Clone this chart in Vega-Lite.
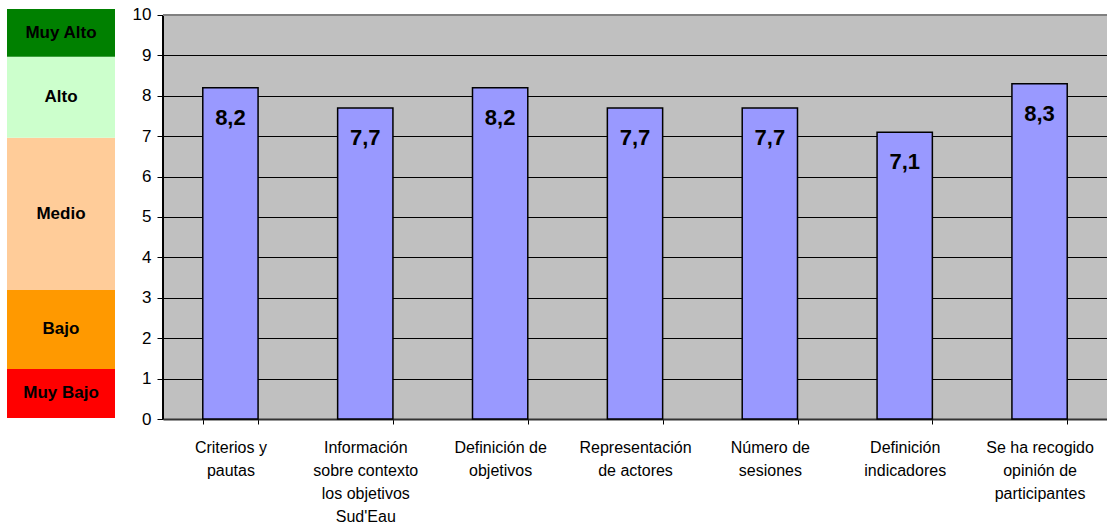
{
  "$schema": "https://vega.github.io/schema/vega-lite/v6.json",
  "padding": {"left": 7, "top": 5, "right": 0, "bottom": 0},
  "autosize": {"type": "pad"},
  "background": "white",
  "config": {
    "font": "Liberation Sans",
    "locale": {"number": {"decimal": ",", "thousands": ".", "grouping": [3], "currency": ["", " €"]}},
    "concat": {"spacing": 17}
  },
  "datasets": {
    "levels": [
      {"nivel": "Muy Bajo", "desde": 0, "hasta": 1.2, "color": "#FF0000"},
      {"nivel": "Bajo", "desde": 1.2, "hasta": 3.13, "color": "#FF9900"},
      {"nivel": "Medio", "desde": 3.13, "hasta": 6.85, "color": "#FFCC99"},
      {"nivel": "Alto", "desde": 6.85, "hasta": 8.83, "color": "#CCFFCC"},
      {"nivel": "Muy Alto", "desde": 8.83, "hasta": 10, "color": "#008000"}
    ],
    "scores": [
      {"criterio": "Criterios y\npautas", "valor": 8.2},
      {"criterio": "Información\nsobre contexto\nlos objetivos\nSud'Eau", "valor": 7.7},
      {"criterio": "Definición de\nobjetivos", "valor": 8.2},
      {"criterio": "Representación\nde actores", "valor": 7.7},
      {"criterio": "Número de\nsesiones", "valor": 7.7},
      {"criterio": "Definición\nindicadores", "valor": 7.1},
      {"criterio": "Se ha recogido\nopinión de\nparticipantes", "valor": 8.3}
    ]
  },
  "hconcat": [
    {
      "width": 108,
      "height": 409,
      "view": {"stroke": null},
      "data": {"name": "levels"},
      "encoding": {
        "y": {"field": "desde", "type": "quantitative", "scale": {"domain": [0, 10], "nice": false}, "axis": null}
      },
      "layer": [
        {
          "mark": {"type": "rect"},
          "encoding": {
            "y2": {"field": "hasta"},
            "x": {"datum": 0, "type": "quantitative", "scale": {"domain": [0, 1]}, "axis": null},
            "x2": {"datum": 1},
            "color": {"field": "color", "type": "nominal", "scale": null}
          }
        },
        {
          "transform": [{"calculate": "(datum.desde + datum.hasta) / 2", "as": "mid"}],
          "mark": {"type": "text", "fontWeight": "bold", "fontSize": 17, "color": "black", "align": "center", "baseline": "middle"},
          "encoding": {
            "y": {"field": "mid", "type": "quantitative"},
            "x": {"datum": 0.5, "type": "quantitative"},
            "text": {"field": "nivel"}
          }
        }
      ]
    },
    {
      "width": 944,
      "height": 410,
      "view": {"stroke": null, "fill": "#C0C0C0"},
      "data": {"name": "scores"},
      "encoding": {
        "x": {
          "field": "criterio", "type": "nominal", "sort": null, "title": null,
          "scale": {"paddingInner": 0.59, "paddingOuter": 0.295},
          "axis": {
            "labelAngle": 0, "labelFontSize": 16, "labelColor": "black", "labelLineHeight": 23,
            "labelExpr": "isValid(datum.value) ? split(datum.value, '\\n') : ''", "labelPadding": 15, "labelBaseline": "top",
            "tickBand": "extent", "tickColor": "black", "tickSize": 5, "domainColor": "#333333",
            "domainWidth": 2, "labelLimit": 200
          }
        },
        "y": {
          "field": "valor", "type": "quantitative", "title": null,
          "scale": {"domain": [0, 10.1485], "nice": false},
          "axis": {
            "values": [0, 1, 2, 3, 4, 5, 6, 7, 8, 9, 10], "labelFontSize": 17, "labelColor": "black",
            "grid": true, "gridColor": "#000000", "gridWidth": 1, "tickColor": "black", "tickSize": 6,
            "domain": false, "labelPadding": 6, "gridOpacity": 1
          }
        }
      },
      "layer": [
        {
          "mark": {"type": "rect", "fill": "white"},
          "encoding": {"x": {"value": -1}, "x2": {"value": 945}, "y": {"datum": 10}, "y2": {"datum": 10.1485}}
        },
        {
          "mark": {"type": "rule", "color": "#000000", "strokeWidth": 1},
          "encoding": {"y": {"datum": 0}, "y2": {"datum": 10}, "x": {"value": 0}}
        },
        {
          "mark": {"type": "bar", "fill": "#9999FF", "stroke": "#000000", "strokeWidth": 1.5}
        },
        {
          "mark": {"type": "text", "fontWeight": "bold", "fontSize": 22, "color": "black", "baseline": "top", "dy": 20},
          "encoding": {"text": {"field": "valor", "type": "quantitative", "format": ".1f"}}
        },
        {
          "mark": {"type": "rule", "color": "#808080", "strokeWidth": 2},
          "encoding": {"y": {"datum": 10}, "x": {"value": 0}, "x2": {"value": 944}}
        }
      ]
    }
  ]
}
